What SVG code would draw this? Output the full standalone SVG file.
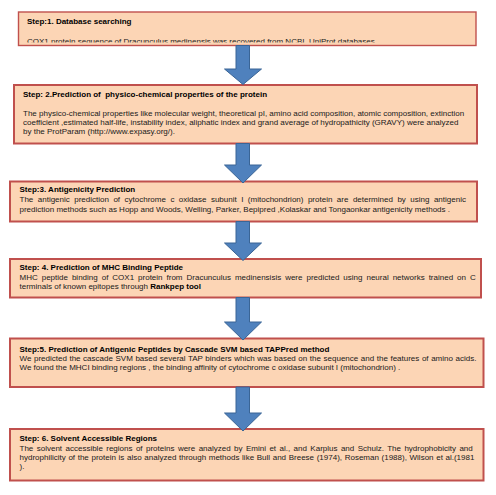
<svg xmlns="http://www.w3.org/2000/svg" width="496" height="495" viewBox="0 0 496 495">
<style>
.box{fill:#FCD5B5;stroke:#C0504D;stroke-width:2}
.t{font-family:"Liberation Sans",Arial,sans-serif;font-size:8px;fill:#1a1a1a}
.h{font-weight:bold;fill:#000}
.arr{fill:#4F81BD;stroke:#3A6596;stroke-width:1}
</style>
<defs>
<clipPath id="c1"><rect x="18" y="12" width="458" height="30.5"/></clipPath>
</defs>
<rect width="496" height="495" fill="#fff"/>
<g id="step1">
<rect class="box" x="18.5" y="12" width="457.5" height="33.5" style="stroke-width:1.4"/>
<text class="t h" x="27" y="23.5">Step:1. Database searching</text>
<text class="t" x="27" y="44" clip-path="url(#c1)">COX1 protein sequence of Dracunculus medinensis was recovered from NCBI, UniProt databases</text>
</g>
<g id="step2">
<rect class="box" x="14" y="85" width="463" height="58.5"/>
<text class="t h" x="23" y="97" xml:space="preserve">Step: 2.Prediction of  physico-chemical properties of the protein</text>
<text class="t" x="23" y="115.7">The physico-chemical properties like molecular weight, theoretical pI, amino acid composition, atomic composition, extinction</text>
<text class="t" x="23" y="124.7">coefficient ,estimated half-life, instability index, aliphatic index and grand average of hydropathicity (GRAVY) were analyzed</text>
<text class="t" x="23" y="133.7">by the ProtParam (http://www.expasy.org/).</text>
</g>
<g id="step3">
<rect class="box" x="10" y="181.5" width="467" height="40"/>
<text class="t h" x="19.5" y="192">Step:3. Antigenicity Prediction</text>
<text class="t" x="19.5" y="202" word-spacing="2.25">The antigenic prediction of cytochrome c oxidase subunit I (mitochondrion) protein are determined by using antigenic</text>
<text class="t" x="19.5" y="211.7">prediction methods such as Hopp and Woods, Welling, Parker, Bepipred ,Kolaskar and Tongaonkar antigenicity methods .</text>
</g>
<g id="step4">
<rect class="box" x="10" y="259" width="471" height="38.5"/>
<text class="t h" x="19.5" y="270.3">Step: 4. Prediction of MHC Binding Peptide</text>
<text class="t" x="19.5" y="280" word-spacing="1.75">MHC peptide binding of COX1 protein from Dracunculus medinensisis were predicted using neural networks trained on C</text>
<text class="t" x="19.5" y="289.3">terminals of known epitopes through <tspan class="h">Rankpep tool</tspan></text>
</g>
<g id="step5">
<rect class="box" x="10" y="338.5" width="473.5" height="48.5"/>
<text class="t h" x="19.5" y="351.7">Step:5. Prediction of Antigenic Peptides by Cascade SVM based TAPPred method</text>
<text class="t" x="19.5" y="360.8" word-spacing="0.35">We predicted the cascade SVM based several TAP binders which was based on the sequence and the features of amino acids.</text>
<text class="t" x="19.5" y="370">We found the MHCI binding regions , the binding affinity of cytochrome c oxidase subunit I (mitochondrion) .</text>
</g>
<g id="step6">
<rect class="box" x="10" y="429" width="473.5" height="51.5"/>
<text class="t h" x="19.5" y="441">Step: 6. Solvent Accessible Regions</text>
<text class="t" x="19.5" y="450.7" word-spacing="1.2">The solvent accessible regions of proteins were analyzed by Emini et al., and Karplus and Schulz. The hydrophobicity and</text>
<text class="t" x="19.5" y="460" word-spacing="0.42">hydrophilicity of the protein is also analyzed through methods like Bull and Breese (1974), Roseman (1988), Wilson et al.(1981</text>
<text class="t" x="19.5" y="469.3">).</text>
</g>
<g id="connectors">
<path class="arr" d="M236,45.5 H249.5 V69 H261.5 L243,84.5 L224.5,69 H236 Z"/>
<path class="arr" d="M236,143.5 H249.5 V165 H261.5 L243,183 L224.5,165 H236 Z"/>
<path class="arr" d="M236,221.5 H249.5 V243 H261.5 L243,260.5 L224.5,243 H236 Z"/>
<path class="arr" d="M236,297.5 H249.5 V322 H261.5 L243,340 L224.5,322 H236 Z"/>
<path class="arr" d="M236,387 H249.5 V413 H261.5 L243,431 L224.5,413 H236 Z"/>
</g>
</svg>
